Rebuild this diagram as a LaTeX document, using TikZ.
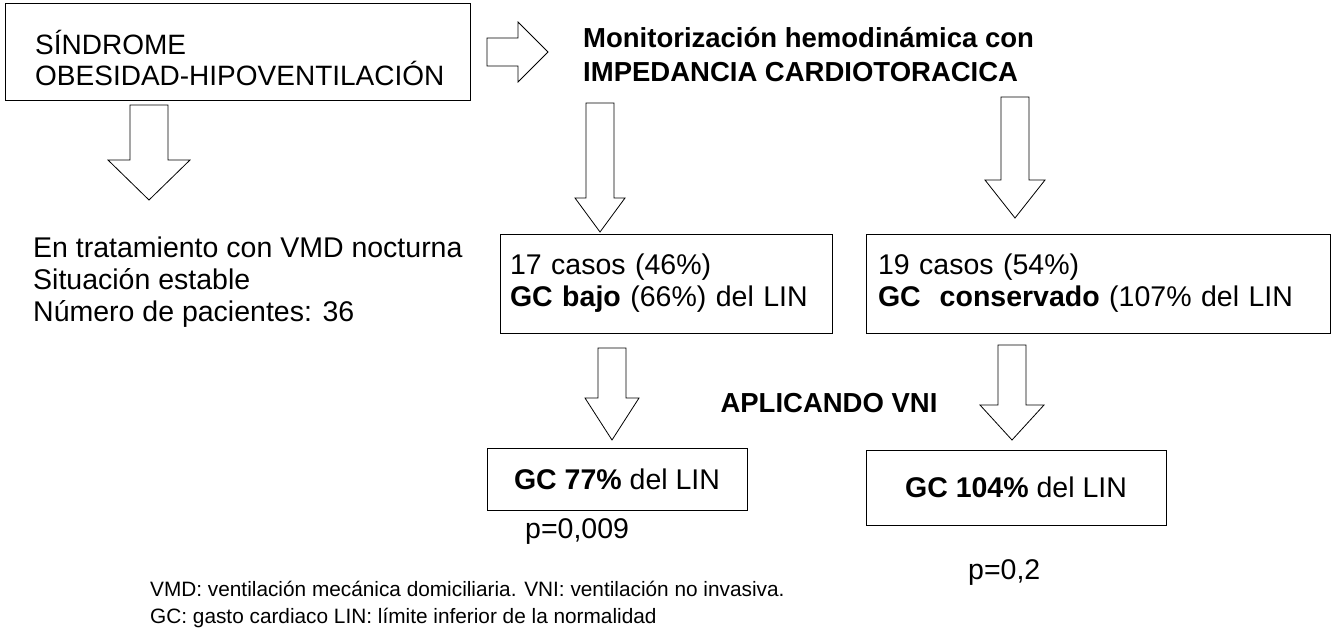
\documentclass[tikz,border=0pt]{standalone}
\usepackage{fontspec}
\setmainfont{Liberation Sans}
\tikzset{
  box/.style={draw, line width=1pt, align=left, anchor=center, inner ysep=0pt},
  blk/.style={draw, line width=0.8pt, fill=white, line join=miter},
  txt/.style={anchor=west, inner sep=0pt, align=left},
}
% block arrow pointing down: cx, top, bottom, shaft half, head half, head start
\newcommand\blockdown[6]{%
  \draw[blk] (#1-#4,#2) -- (#1+#4,#2) -- (#1+#4,#6) -- (#1+#5,#6) -- (#1,#3)
    -- (#1-#5,#6) -- (#1-#4,#6) -- cycle;}
\begin{document}
\begin{tikzpicture}[x=1pt,y=-1pt]
  \useasboundingbox (0,0) rectangle (1333,627);
  \fontsize{28}{31}\selectfont

  \draw[line width=1pt] (5,3) rectangle (470,100);
  \node[txt] (sindrome) at (35,58) {SÍNDROME\\OBESIDAD-HIPOVENTILACIÓN};

  \draw[blk] (487,38) -- (518,38) -- (518,22) -- (548,52) -- (518,82) -- (518,66)
    -- (487,66) -- cycle;

  \node[txt, font=\bfseries\fontsize{27.5}{34}\selectfont] (monitor) at (583,55)
    {Monitorización hemodinámica con\\IMPEDANCIA CARDIOTORACICA};

  \blockdown{149}{105}{200}{19}{41}{160}
  \blockdown{600}{103}{232}{14}{25}{198}
  \blockdown{1015}{97}{218}{14}{30}{180}

  \node[txt, font=\fontsize{28.5}{32}\selectfont] (tratam) at (33,282)
    {En tratamiento con VMD nocturna\\Situación estable\\Número de pacientes: 36};

  \node[box, minimum width=332pt, minimum height=99pt, text width=312pt, inner xsep=10pt,
    font=\fontsize{28.5}{32}\selectfont] (bajo) at (666,283.5)
    {17 casos (46\%)\\\textbf{GC bajo} (66\%) del LIN};
  \node[box, minimum width=464pt, minimum height=99pt, text width=440pt, inner xsep=12pt,
    font=\fontsize{28.5}{32}\selectfont] (conserv) at (1098,283.5)
    {19 casos (54\%)\\\textbf{GC\ \ conservado} (107\% del LIN};

  \blockdown{612}{348}{440}{14}{27}{398}
  \blockdown{1012}{345}{440}{14}{32}{405}

  \node[font=\bfseries\fontsize{27.5}{30}\selectfont, inner sep=0pt] (vni) at (829,403)
    {APLICANDO VNI};

  \node[box, minimum width=260pt, minimum height=62pt, align=center,
    font=\fontsize{28.5}{30}\selectfont] (gc77) at (617,479) {\textbf{GC 77\%} del LIN};
  \node[box, minimum width=300pt, minimum height=75pt, align=center,
    font=\fontsize{28.5}{30}\selectfont] (gc104) at (1016,487.5) {\textbf{GC 104\%} del LIN};

  \node[txt, font=\fontsize{28.5}{30}\selectfont] (p1) at (525,531) {p=0,009};
  \node[txt, font=\fontsize{28.5}{30}\selectfont] (p2) at (968,572) {p=0,2};

  \node[txt, font=\fontsize{20.8}{27}\selectfont] (nota) at (150,604)
    {VMD: ventilación mecánica domiciliaria. VNI: ventilación no invasiva.\\
     GC: gasto cardiaco LIN: límite inferior de la normalidad};
\end{tikzpicture}
\end{document}
